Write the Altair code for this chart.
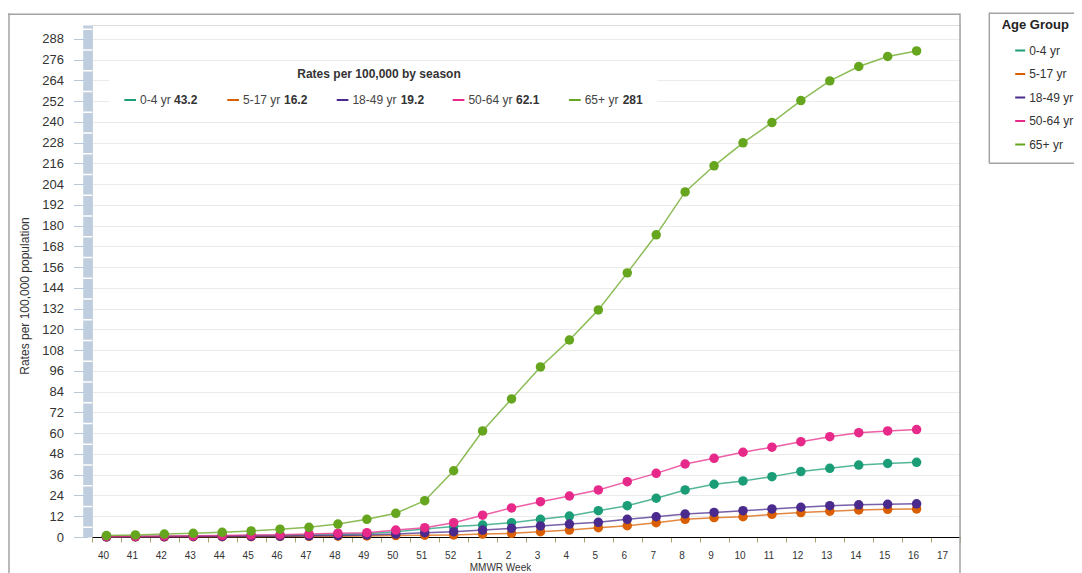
import altair as alt
import pandas as pd

# ---------------- data ----------------
weeks = [str(w) for w in list(range(40, 53)) + list(range(1, 18))]
groups = ["0-4 yr", "5-17 yr", "18-49 yr", "50-64 yr", "65+ yr"]
colors = ["#1b9e77", "#d95f02", "#4a2a8c", "#e7298a", "#66a61e"]
season_rates = ["43.2", "16.2", "19.2", "62.1", "281"]

# weekly cumulative rates, MMWR weeks 40..52, 1..16
rate_0_4 = [0.2, 0.3, 0.4, 0.5, 0.6, 0.8, 0.9, 1.1, 1.4, 1.9, 3.1, 4.6, 6.0,
            6.9, 8.3, 10.2, 12.1, 15.2, 18.1, 22.4, 27.2, 30.5, 32.4, 34.9,
            37.8, 39.7, 41.6, 42.5, 43.2]
rate_5_17 = [0.05, 0.1, 0.1, 0.15, 0.2, 0.2, 0.3, 0.35, 0.45, 0.6, 0.8, 1.0, 1.2,
             1.7, 2.1, 3.1, 4.0, 5.4, 6.5, 8.3, 10.2, 11.2, 11.7, 13.1,
             14.1, 14.9, 15.6, 16.0, 16.2]
rate_18_49 = [0.1, 0.15, 0.2, 0.3, 0.35, 0.4, 0.5, 0.7, 0.9, 1.2, 1.7, 2.5, 3.1,
              4.0, 5.0, 6.4, 7.5, 8.5, 10.2, 11.7, 13.3, 14.2, 15.2, 16.2,
              17.2, 18.1, 18.6, 18.9, 19.2]
rate_50_64 = [0.3, 0.4, 0.6, 0.7, 0.9, 1.1, 1.3, 1.8, 2.2, 2.5, 4.0, 5.4, 8.3,
              12.6, 16.8, 20.4, 23.7, 27.2, 32.0, 36.8, 42.2, 45.5, 49.0, 51.9,
              55.1, 58.0, 60.3, 61.3, 62.1]
rate_65 = [0.8, 1.2, 1.7, 2.1, 2.7, 3.5, 4.5, 5.6, 7.5, 10.2, 13.7, 21.0, 38.3,
           61.3, 79.8, 98.3, 113.9, 131.3, 152.7, 174.7, 199.5, 214.6, 227.9, 239.6,
           252.3, 263.7, 272.0, 277.8, 281.0]
y_ticks = list(range(0, 289, 12))

series = [rate_0_4, rate_5_17, rate_18_49, rate_50_64, rate_65]
rows = []
for g, vals in zip(groups, series):
    for i, v in enumerate(vals):
        rows.append({"week": weeks[i], "idx": i, "group": g, "rate": v})
df = pd.DataFrame(rows)
one = pd.DataFrame({"k": [0]})

FONT = "Liberation Sans"
W, H = 868, 512

# ---------------- encodings ----------------
x_enc = alt.X(
    "week:N",
    sort=weeks,
    scale=alt.Scale(type="band", domain=weeks, paddingInner=0, paddingOuter=0),
    axis=alt.Axis(
        title="MMWR Week", labelAngle=0, tickBand="extent", grid=False,
        domainColor="#000000", domainWidth=1,
        tickColor="#a8a36c", tickSize=5, tickWidth=1,
        labelFont=FONT, labelFontSize=10, labelColor="#333333",
        labelPadding=8, labelOffset=-3.5,
        titleFont=FONT, titleFontSize=10, titleFontWeight="normal",
        titleColor="#333333", titleX=408, titleY=33,
        titleBaseline="alphabetic", titleAlign="center",
    ),
)
y_enc = alt.Y(
    "rate:Q",
    scale=alt.Scale(domain=[0, 296], nice=False, zero=True),
    axis=alt.Axis(
        title="Rates per 100,000 population", values=y_ticks, offset=4.5,
        domainColor="#bfcedf", domainWidth=9.6, domainDash=[19.25, 1.5],
        domainDashOffset=9.63,
        tickColor="#b8c8d9", tickSize=14, tickWidth=1,
        labelFont=FONT, labelFontSize=13, labelColor="#333333", labelPadding=10,
        grid=True, gridColor="#ebebeb", gridWidth=1,
        titleFont=FONT, titleFontSize=12, titleFontWeight="normal",
        titleColor="#333333", titleX=-63, titleY=270.5,
        titleBaseline="middle", titleAlign="center",
    ),
)
color_scale = alt.Scale(domain=groups, range=colors)

base = alt.Chart(df)
lines = base.mark_line(strokeWidth=1.5, opacity=0.75).encode(
    x=x_enc, y=y_enc,
    color=alt.Color(
        "group:N", scale=color_scale,
        legend=alt.Legend(
            orient="none", legendX=909.7, legendY=-6.5, title="Age Group",
            titleFont=FONT, titleFontSize=13, titleFontWeight="bold",
            titleColor="#222222", titlePadding=13,
            labelFont=FONT, labelFontSize=12, labelColor="#333333",
            symbolType="stroke", symbolSize=100, symbolStrokeWidth=2,
            symbolOpacity=1, symbolOffset=12.5, labelOffset=3,
            rowPadding=11.5, padding=0,
        ),
    ),
    order=alt.Order("idx:Q"),
)
points = base.mark_point(filled=True, size=90, opacity=1).encode(
    x=x_enc, y=y_enc,
    color=alt.Color("group:N", scale=color_scale, legend=None),
)

# ---------------- in-plot season legend ----------------
layers = []
layers.append(
    alt.Chart(one).mark_rect(color="white").encode(
        x=alt.value(17), x2=alt.value(565), y=alt.value(37), y2=alt.value(95))
)
layers.append(
    alt.Chart(one).mark_text(
        text="Rates per 100,000 by season", font=FONT, fontSize=12,
        fontWeight="bold", color="#333333", align="center", baseline="middle",
    ).encode(x=alt.value(287), y=alt.value(49))
)
item_x = [32.3, 135.3, 244.7, 360.7, 477.0]
value_x = [82.0, 192.0, 308.7, 424.0, 530.7]
for g, c, r, ix, vx in zip(groups, colors, season_rates, item_x, value_x):
    layers.append(
        alt.Chart(one).mark_rule(color=c, strokeWidth=2).encode(
            x=alt.value(ix), x2=alt.value(ix + 11.7), y=alt.value(75))
    )
    layers.append(
        alt.Chart(one).mark_text(
            text=g, font=FONT, fontSize=12, color="#444444",
            align="left", baseline="middle",
        ).encode(x=alt.value(ix + 15.7), y=alt.value(75))
    )
    layers.append(
        alt.Chart(one).mark_text(
            text=r, font=FONT, fontSize=12, fontWeight="bold", color="#333333",
            align="left", baseline="middle",
        ).encode(x=alt.value(vx), y=alt.value(75))
    )

# ---------------- frames ----------------
def hline(x1, x2, y, color="#a3a3a3", w=1.5):
    return alt.Chart(one).mark_rule(color=color, strokeWidth=w).encode(
        x=alt.value(x1), x2=alt.value(x2), y=alt.value(y))

def vline(x, y1, y2, color="#a3a3a3", w=1.5):
    return alt.Chart(one).mark_rule(color=color, strokeWidth=w).encode(
        x=alt.value(x), y=alt.value(y1), y2=alt.value(y2))

frames = [
    hline(-84, W, -10.8),
    vline(-83, -11.5, 560),
    vline(W, -11.5, 560),
    hline(897.3, 1000, -11.7),
    vline(897.3, -12.4, 138.3),
    hline(897.3, 1000, 138.3),
]

chart = alt.layer(*layers, lines, points, *frames).properties(
    width=W, height=H,
    padding={"left": 84, "top": 17, "right": 114, "bottom": 36},
    autosize=alt.AutoSizeParams(type="none"),
).configure_view(strokeWidth=0).configure(background="white", font=FONT)

chart.save("out.html", embed_options={"renderer": "svg", "actions": False})
